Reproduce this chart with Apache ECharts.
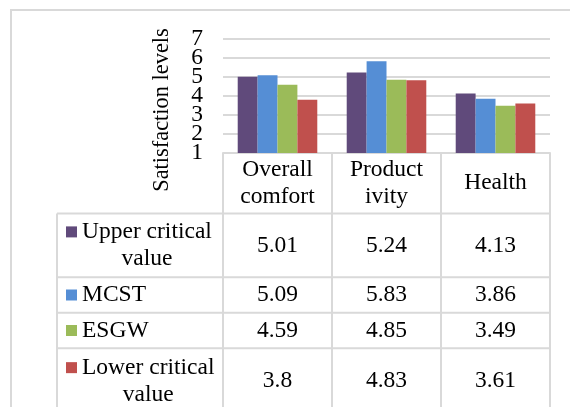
<!DOCTYPE html>
<html>
<head>
<meta charset="utf-8">
<script src="https://cdn.jsdelivr.net/npm/echarts@6/dist/echarts.min.js"></script>
<style>
  html, body { margin: 0; padding: 0; background: #fff; }
  #chart { width: 570px; height: 407px; }
</style>
</head>
<body>
<div id="chart"></div>
<script>
// data
const categories = ['Overall\ncomfort', 'Product\nivity', 'Health'];
const seriesNames = ['Upper critical value', 'MCST', 'ESGW', 'Lower critical value'];
const tableLabels = ['Upper critical\nvalue', 'MCST', 'ESGW', 'Lower critical\nvalue'];
const upperCritical = [5.01, 5.24, 4.13];
const mcst = [5.09, 5.83, 3.86];
const esgw = [4.59, 4.85, 3.49];
const lowerCritical = [3.8, 4.83, 3.61];
const yTicks = [1, 2, 3, 4, 5, 6, 7];
const yTitle = 'Satisfaction levels';

const colors = ['#604A7B', '#558ED5', '#9BBB59', '#C0504D'];
const seriesData = [upperCritical, mcst, esgw, lowerCritical];
const FONT = '"Liberation Serif", "Times New Roman", serif';
const FS = 23.5;
const LINE = '#D9D9D9';

const chart = echarts.init(document.getElementById('chart'));

chart.setOption({
  animation: false,
  color: colors,
  grid: { left: 223, right: 20, top: 39, bottom: 254 },
  xAxis: {
    type: 'category',
    data: categories,
    axisTick: { show: false },
    axisLine: { show: true, lineStyle: { color: LINE, width: 2 } },
    axisLabel: {
      color: '#000', fontFamily: FONT, fontSize: FS, lineHeight: 27,
      verticalAlign: 'middle', margin: 30
    }
  },
  yAxis: {
    type: 'value',
    min: yTicks[0],
    max: yTicks[yTicks.length - 1],
    interval: 1,
    axisLine: { show: false },
    axisTick: { show: false },
    splitLine: { lineStyle: { color: LINE, width: 2 } },
    // tick labels overlap each other in the original, drawn below instead
    axisLabel: { show: false }
  },
  series: seriesData.map(function (d, i) {
    return {
      name: seriesNames[i],
      type: 'bar',
      data: d,
      barGap: '0%',
      barCategoryGap: '27%'
    };
  })
});

// build the data table under the plot from the axis positions
const c0 = chart.convertToPixel({ xAxisIndex: 0 }, 0);
const c1 = chart.convertToPixel({ xAxisIndex: 0 }, 1);
const band = c1 - c0;
const colCenters = categories.map(function (c, i) { return chart.convertToPixel({ xAxisIndex: 0 }, i); });
const plotLeft = colCenters[0] - band / 2;
const plotRight = colCenters[colCenters.length - 1] + band / 2;
const axisY = chart.convertToPixel({ yAxisIndex: 0 }, yTicks[0]);

const tableLeft = 57;
const rowLines = [213.5, 277.3, 312.7, 348.3, 414];
const keyX = 66;
const textX = 82;

const measure = document.createElement('canvas').getContext('2d');
measure.font = FS + 'px ' + FONT;

const graphics = [];
function line(x1, y1, x2, y2) {
  graphics.push({
    type: 'line', silent: true,
    shape: { x1: x1, y1: y1, x2: x2, y2: y2 },
    style: { stroke: LINE, lineWidth: 2 }
  });
}
function text(str, x, y, align) {
  graphics.push({
    type: 'text', silent: true,
    style: {
      text: str, x: x, y: y, fill: '#000',
      font: FS + 'px ' + FONT, lineHeight: 27,
      align: align, verticalAlign: 'middle',
      textAlign: align, textVerticalAlign: 'middle'
    }
  });
}

// outer border
graphics.push({
  type: 'rect', silent: true,
  shape: { x: 11, y: 10, width: 600, height: 450 },
  style: { fill: null, stroke: LINE, lineWidth: 2 }
});

// y tick labels
yTicks.forEach(function (t) {
  text(String(t), plotLeft - 20, chart.convertToPixel({ yAxisIndex: 0 }, t), 'right');
});

// horizontal table lines
rowLines.slice(0, 4).forEach(function (y) { line(tableLeft, y, plotRight, y); });
// vertical table lines
line(tableLeft, rowLines[0], tableLeft, 420);
for (let i = 0; i <= categories.length; i++) {
  const x = plotLeft + i * band;
  line(x, axisY, x, 420);
}

// legend keys, row labels and values
tableLabels.forEach(function (lab, r) {
  const top = rowLines[r], bottom = rowLines[r + 1];
  const mid = (top + bottom) / 2;
  const lines = lab.split('\n');
  const firstY = mid - (lines.length - 1) * 27 / 2;
  const w = measure.measureText(lines[0]).width;
  text(lab, textX + w / 2, mid, 'center');
  graphics.push({
    type: 'rect', silent: true,
    shape: { x: keyX, y: firstY - 5.5, width: 11, height: 11 },
    style: { fill: colors[r] }
  });
  seriesData[r].forEach(function (v, c) {
    text(String(v), colCenters[c], mid, 'center');
  });
});

// y axis title
graphics.push({
  type: 'text', silent: true,
  x: 162, y: 110, rotation: Math.PI / 2,
  style: {
    text: yTitle, x: 0, y: 0, fill: '#000',
    font: '22.4px ' + FONT,
    align: 'center', verticalAlign: 'middle',
    textAlign: 'center', textVerticalAlign: 'middle'
  }
});

chart.setOption({ graphic: { elements: graphics } });
</script>
</body>
</html>
